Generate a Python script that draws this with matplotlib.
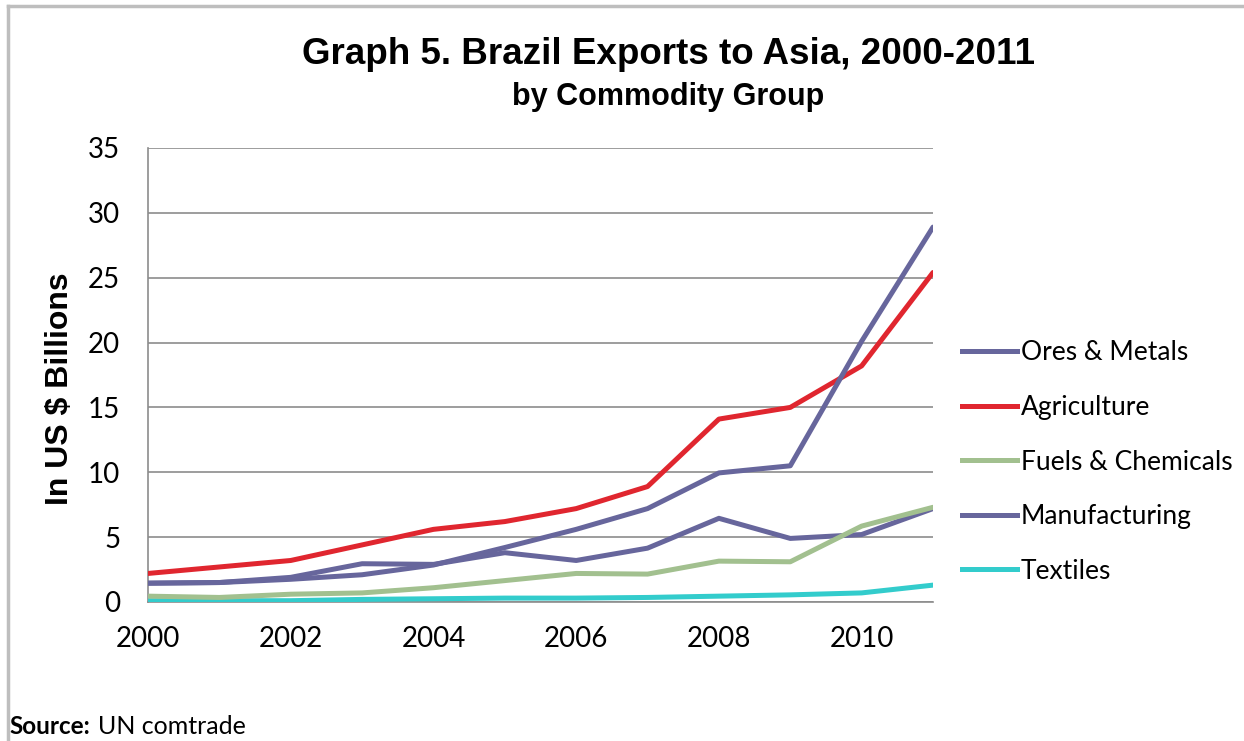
import matplotlib; matplotlib.use("Agg")
import matplotlib.pyplot as plt
from matplotlib.lines import Line2D

years = list(range(2000, 2012))
ores = [1.45, 1.5, 1.75, 2.1, 2.85, 4.2, 5.6, 7.2, 9.95, 10.5, 20.1, 28.9]
agriculture = [2.2, 2.7, 3.2, 4.4, 5.6, 6.2, 7.2, 8.9, 14.1, 15.0, 18.2, 25.4]
fuels = [0.45, 0.35, 0.6, 0.7, 1.1, 1.65, 2.2, 2.15, 3.15, 3.1, 5.85, 7.3]
manufacturing = [1.45, 1.5, 1.9, 2.95, 2.9, 3.8, 3.2, 4.15, 6.45, 4.9, 5.2, 7.2]
textiles = [0.1, 0.1, 0.1, 0.2, 0.25, 0.3, 0.3, 0.35, 0.45, 0.55, 0.7, 1.3]

names = ["Ores & Metals", "Agriculture", "Fuels & Chemicals", "Manufacturing", "Textiles"]
colors = ["#67669C", "#E0262F", "#A2C08F", "#67669C", "#33CCCC"]
series = [ores, agriculture, fuels, manufacturing, textiles]

plt.rcParams["font.family"] = ["Lato", "DejaVu Sans"]
fig = plt.figure(figsize=(12.44, 7.41), dpi=100)
ax = fig.add_axes([0.119, 0.1876, 0.631, 0.6127])

# draw order: textiles/fuels under, like excel
for s, c in reversed(list(zip(series, colors))):
    ax.plot(years, s, color=c, lw=3.6, solid_capstyle="round", solid_joinstyle="round", zorder=3)

ax.set_xlim(2000, 2011)
ax.set_ylim(0, 35)
ax.set_xticks(range(2000, 2011, 2))
ax.set_yticks(range(0, 36, 5))
ax.grid(axis="y", color="#8C8C8C", lw=1.2)
ax.set_axisbelow(True)
ax.tick_params(length=0, labelsize=20, pad=17)
ax.tick_params(axis="y", pad=20)
for sp in ["top", "right"]:
    ax.spines[sp].set_visible(False)
for sp in ["left", "bottom"]:
    ax.spines[sp].set_color("#8C8C8C")
    ax.spines[sp].set_linewidth(1.2)

ax.set_ylabel("In US $ Billions", family="Liberation Sans", fontweight="bold", fontsize=23)
ax.yaxis.set_label_coords(-0.093, 0.469)

handles = [Line2D([0], [0], color=c, lw=3.6) for c in colors]
fig.legend(handles, names, loc="center left", bbox_to_anchor=(0.7733, 0.3765), frameon=False,
           borderpad=0, borderaxespad=0,
           fontsize=19, handlelength=2.1, handletextpad=0.12, labelspacing=1.12)

fig.text(0.537, 0.926, "Graph 5. Brazil Exports to Asia, 2000-2011", ha="center", va="center",
         family="Liberation Sans", fontweight="bold", fontsize=26.5)
fig.text(0.537, 0.869, "by Commodity Group", ha="center", va="center",
         family="Liberation Sans", fontweight="bold", fontsize=22)

src = fig.text(0.008, 0.019, "Source:", fontweight="bold", fontsize=17.5, va="center")
ax.annotate("UN comtrade", xy=(1, 0.5), xycoords=src, xytext=(5, 0), textcoords="offset points",
            va="center", fontsize=18, annotation_clip=False)

# outer chart border (top and left visible)
fig.add_artist(Line2D([0.0065, 1.0], [0.9925, 0.9925], color="#BEBEBE", lw=2.5))
fig.add_artist(Line2D([0.0065, 0.0065], [0.0, 0.9925], color="#BEBEBE", lw=2.5))

fig.savefig("out.png", dpi=100)
